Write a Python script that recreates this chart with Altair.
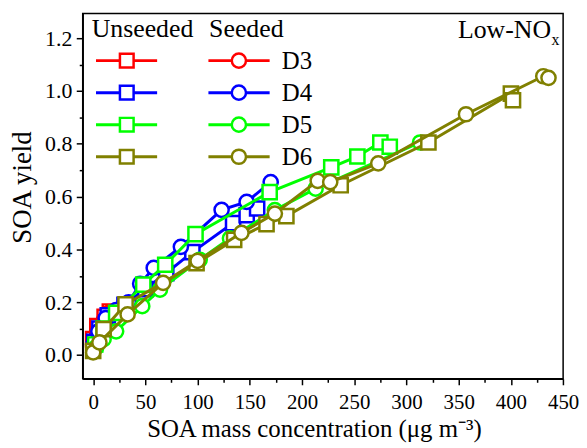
import altair as alt
import pandas as pd

# ---------------- data ----------------
labels = ["D3", "D4", "D5", "D6"]
colors = ["#FF0000", "#0000FF", "#00FF00", "#808000"]

d3_unseeded_x = [0, 4, 11, 16]
d3_unseeded_y = [0.06, 0.11, 0.145, 0.165]
d3_seeded_x = [1, 5, 10, 15]
d3_seeded_y = [0.05, 0.09, 0.13, 0.16]

d4_unseeded_x = [1, 6, 14, 30, 50, 70, 95, 134, 147, 157]
d4_unseeded_y = [0.05, 0.10, 0.15, 0.19, 0.25, 0.31, 0.39, 0.50, 0.53, 0.555]
d4_seeded_x = [0, 5, 12, 22, 34, 45, 58, 84, 123, 147, 170]
d4_seeded_y = [0.04, 0.09, 0.14, 0.17, 0.20, 0.27, 0.33, 0.41, 0.55, 0.58, 0.655]

d5_unseeded_x = [2, 10, 22, 48, 69, 98, 169, 228, 253, 275, 284]
d5_unseeded_y = [0.04, 0.10, 0.16, 0.267, 0.342, 0.458, 0.617, 0.711, 0.752, 0.805, 0.789]
d5_seeded_x = [3, 10, 22, 47, 64, 102, 131, 174, 213, 313]
d5_seeded_y = [0.03, 0.06, 0.09, 0.185, 0.248, 0.361, 0.442, 0.549, 0.63, 0.805]

d6_unseeded_x = [0, 10, 31, 99, 135, 166, 185, 237, 321, 400, 402]
d6_unseeded_y = [0.016, 0.098, 0.192, 0.348, 0.436, 0.496, 0.526, 0.643, 0.805, 0.99, 0.965]
d6_seeded_x = [0, 6, 33, 67, 100, 142, 174, 215, 227, 273, 357, 431, 436]
d6_seeded_y = [0.01, 0.048, 0.154, 0.273, 0.357, 0.463, 0.536, 0.66, 0.655, 0.726, 0.912, 1.056, 1.05]

x_tick_values = list(range(0, 451, 25))
y_tick_values = [round(i * 0.1, 1) for i in range(13)]

# ---------------- style ----------------
FONT = "Liberation Serif"
W, H = 484.2, 368.3

xscale = alt.Scale(domain=[-10, 450], nice=False, zero=False)
yscale = alt.Scale(domain=[-0.09, 1.294], nice=False, zero=False)

xaxis = alt.Axis(
    values=x_tick_values,
    labelExpr="datum.value % 50 == 0 ? format(datum.value, 'd') : ''",
    tickSize={"condition": {"test": "datum.value % 50 == 0", "value": 6}, "value": 3.5},
    title="SOA mass concentration (\u03bcg m\u207b\u00b3)",
    titleFont=FONT, titleFontSize=25, titleFontWeight="normal", titleColor="black",
    titleX=233, titleY=58, titleAlign="center", titleBaseline="alphabetic",
    labelFont=FONT, labelFontSize=21, labelColor="black", labelPadding=7,
    labelOverlap=False, labelFlush=False,
    domainColor="black", domainWidth=1.5, tickColor="black", tickWidth=1.5, grid=False,
)
yaxis = alt.Axis(
    values=y_tick_values,
    labelExpr="round(datum.value * 10) % 2 == 0 ? format(datum.value, '.1f') : ''",
    tickSize={"condition": {"test": "round(datum.value * 10) % 2 == 0", "value": 6.5}, "value": 3.5},
    title="SOA yield",
    titleFont=FONT, titleFontSize=27, titleFontWeight="normal", titleColor="black",
    titleX=-61, titleY=175, titleAngle=270, titleAlign="center", titleBaseline="middle",
    labelFont=FONT, labelFontSize=22, labelColor="black", labelPadding=4.5,
    labelOverlap=False, labelFlush=False,
    domainColor="black", domainWidth=1.5, tickColor="black", tickWidth=1.5, grid=False,
)

series = [
    ("D3", "square", d3_unseeded_x, d3_unseeded_y),
    ("D3", "circle", d3_seeded_x, d3_seeded_y),
    ("D4", "square", d4_unseeded_x, d4_unseeded_y),
    ("D4", "circle", d4_seeded_x, d4_seeded_y),
    ("D5", "square", d5_unseeded_x, d5_unseeded_y),
    ("D5", "circle", d5_seeded_x, d5_seeded_y),
    ("D6", "square", d6_unseeded_x, d6_unseeded_y),
    ("D6", "circle", d6_seeded_x, d6_seeded_y),
]

layers = []
for lab, shape, xs, ys in series:
    col = colors[labels.index(lab)]
    df = pd.DataFrame({"x": xs, "y": ys})
    enc = dict(
        x=alt.X("x:Q", scale=xscale, axis=xaxis),
        y=alt.Y("y:Q", scale=yscale, axis=yaxis),
    )
    layers.append(alt.Chart(df).mark_line(color=col, strokeWidth=3).encode(**enc))
    layers.append(
        alt.Chart(df).mark_point(
            shape=shape, size=205, fill="white", fillOpacity=1, stroke=col,
            strokeWidth=2.5, opacity=1,
        ).encode(**enc)
    )

# ---------------- legend (drawn inside plot, pixel positions) ----------------
row0, row_step = 47.6, 32.3
leg = pd.DataFrame({"label": labels, "col": colors})
leg["ly"] = [row0 + row_step * i for i in range(len(labels))]

ly = alt.Y("ly:Q", scale=None)
lc = alt.Color("col:N", scale=None, legend=None)
ls = alt.Stroke("col:N", scale=None, legend=None)

layers += [
    alt.Chart(leg).mark_rule(strokeWidth=3).encode(x=alt.value(13.4), x2=alt.value(75), y=ly, color=lc),
    alt.Chart(leg).mark_point(shape="square", size=190, fill="white", fillOpacity=1,
                              strokeWidth=2.5, opacity=1).encode(x=alt.value(44.4), y=ly, stroke=ls),
    alt.Chart(leg).mark_rule(strokeWidth=3).encode(x=alt.value(126.7), x2=alt.value(188.4), y=ly, color=lc),
    alt.Chart(leg).mark_point(shape="circle", size=205, fill="white", fillOpacity=1,
                              strokeWidth=2.5, opacity=1).encode(x=alt.value(157.4), y=ly, stroke=ls),
    alt.Chart(leg).mark_text(font=FONT, fontSize=25, align="left", baseline="middle",
                             color="black").encode(x=alt.value(200.7), y=alt.Y("ly:Q", scale=None), text="label:N"),
]

headers = pd.DataFrame({"h": ["Unseeded", "Seeded"], "hx": [9, 127.4]})
layers.append(
    alt.Chart(headers).mark_text(font=FONT, fontSize=26, align="left", baseline="alphabetic",
                                 color="black").encode(
        x=alt.X("hx:Q", scale=None), y=alt.value(23.3), text="h:N")
)

note = pd.DataFrame({"main": ["Low-NO"], "sub": ["x"]})
layers.append(
    alt.Chart(note).mark_text(font=FONT, fontSize=26, align="right", baseline="alphabetic",
                              color="black").encode(x=alt.value(472), y=alt.value(24.3), text="main:N")
)
layers.append(
    alt.Chart(note).mark_text(font=FONT, fontSize=16, align="left", baseline="alphabetic",
                              color="black").encode(x=alt.value(472.5), y=alt.value(31.6), text="sub:N")
)

chart = alt.layer(*layers).properties(
    width=W, height=H,
    autosize=alt.AutoSizeParams(type="none"),
    padding={"left": 75.3, "top": 3.7, "right": 16, "bottom": 68},
).configure_view(stroke="black", strokeWidth=1.5)

chart.save("out.html", embed_options={"renderer": "svg", "actions": False})
